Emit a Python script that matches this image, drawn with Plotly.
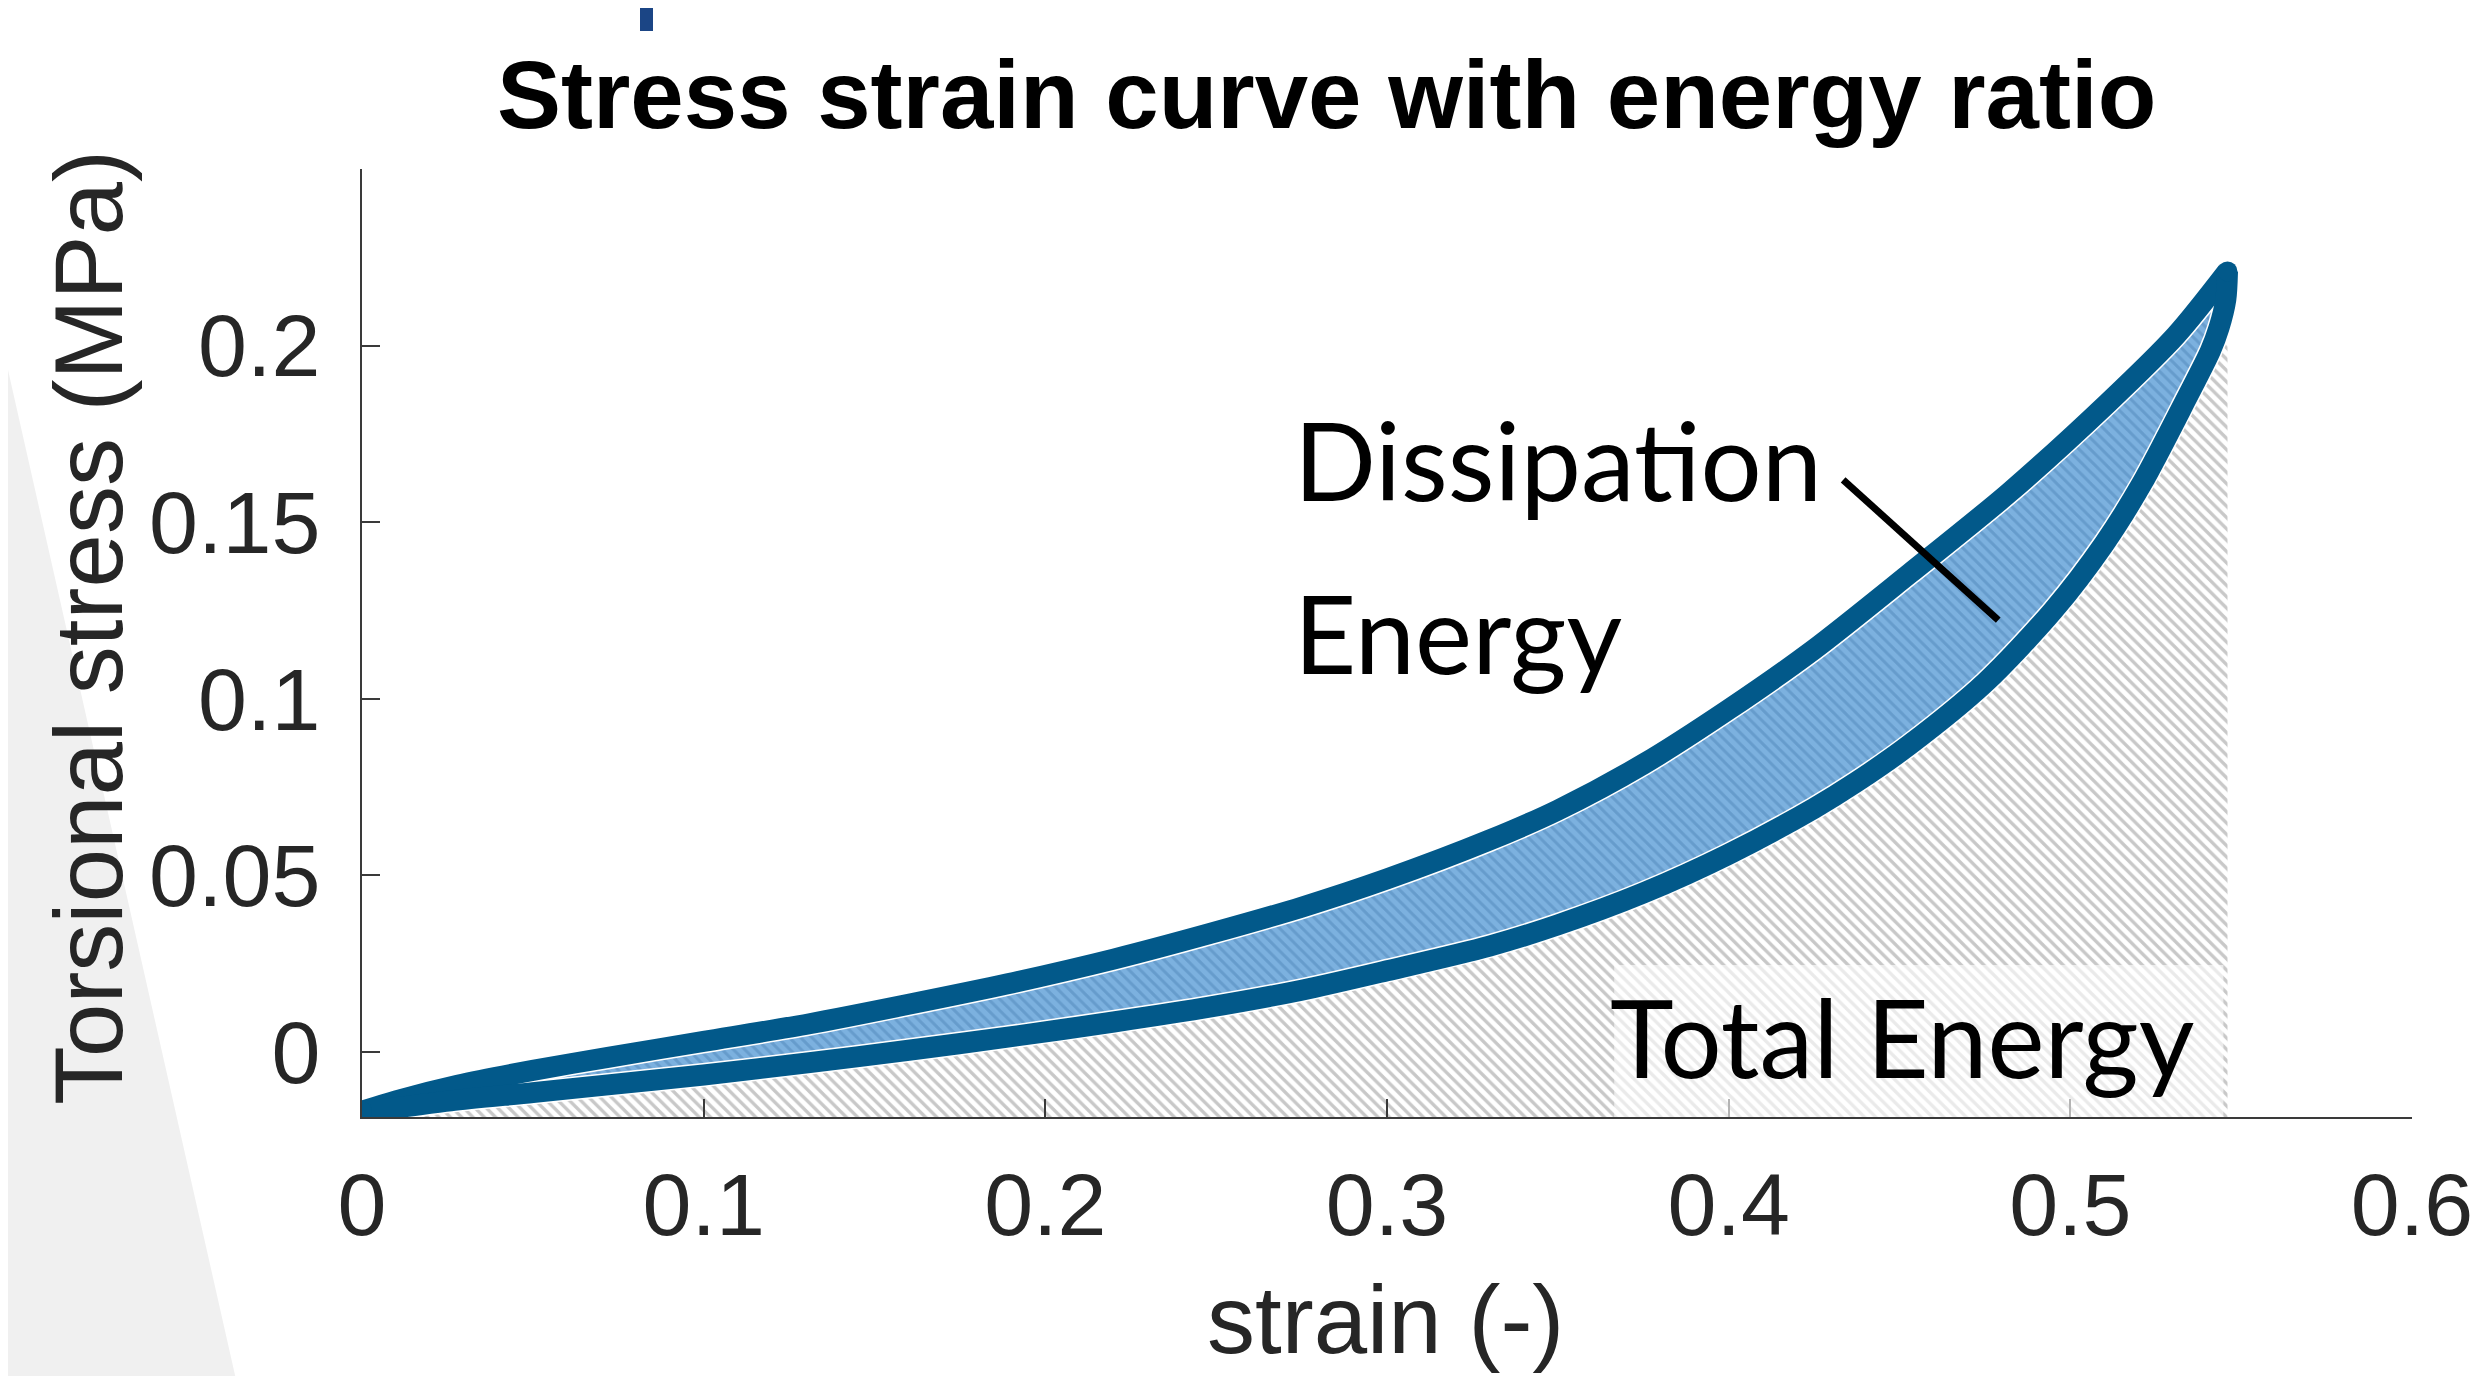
import plotly.graph_objects as go

# ---------------- data ----------------
strain_load = [0.000, 0.010, 0.028, 0.050, 0.072, 0.100, 0.131, 0.160, 0.189, 0.220,
               0.248, 0.275, 0.300, 0.330, 0.350, 0.375, 0.400, 0.425, 0.453, 0.482,
               0.511, 0.531, 0.546]
stress_load = [-0.0168, -0.0138, -0.0094, -0.0052, -0.0015, 0.0030, 0.0080, 0.0135, 0.0193, 0.0263,
               0.0335, 0.0410, 0.0490, 0.0600, 0.0685, 0.0815, 0.0970, 0.1140, 0.1355, 0.1583,
               0.1838, 0.2030, 0.2210]

strain_unload = [0.000, 0.010, 0.026, 0.050, 0.072, 0.100, 0.131, 0.160, 0.189, 0.220,
                 0.248, 0.275, 0.300, 0.330, 0.350, 0.375, 0.400, 0.425, 0.4375, 0.453,
                 0.475, 0.495, 0.510, 0.521, 0.534, 0.541, 0.5435, 0.5455, 0.546]
stress_unload = [-0.0168, -0.0158, -0.0138, -0.0115, -0.0093, -0.0065, -0.0030, 0.0005, 0.0042, 0.0085,
                 0.0127, 0.0175, 0.0230, 0.0300, 0.0360, 0.0450, 0.0560, 0.0690, 0.0765, 0.0870,
                 0.1045, 0.1250, 0.1440, 0.1610, 0.1850, 0.1985, 0.2050, 0.2130, 0.2210]

x_ticks = [0, 0.1, 0.2, 0.3, 0.4, 0.5, 0.6]
x_tick_labels = ["0", "0.1", "0.2", "0.3", "0.4", "0.5", "0.6"]
y_ticks = [0, 0.05, 0.1, 0.15, 0.2]
y_tick_labels = ["0", "0.05", "0.1", "0.15", "0.2"]

X_RANGE = [0, 0.6]
Y_RANGE = [-0.0184, 0.25]

# annotation anchors
total_box = [0.3665, 0.5448, -0.0184, 0.0246]   # x0, x1, y0, y1
leader = [0.4335, 0.162, 0.4789, 0.1223]        # x0, y0, x1, y1

# ---------------- styles ----------------
DARK_BLUE = "#02598a"
AX_COLOR = "#3a3a3a"
TICK_FONT = dict(family="Liberation Sans, Arial, sans-serif", size=88, color="#262626")
LABEL_FONT = "Lato, Carlito, Calibri, sans-serif"
LINE_W = 21

W, H = 2481, 1376
ML, MR, MT, MB = 354, 77, 161, 267
PW, PH = W - ML - MR, H - MT - MB


def px_to_paper(px, py):
    return (px - ML) / PW, (H - MB - py) / PH


fig = go.Figure()

# Total energy (hatched grey area under the unloading curve)
fig.add_trace(go.Scatter(
    x=strain_unload + [strain_unload[-1], strain_unload[0]],
    y=stress_unload + [Y_RANGE[0], Y_RANGE[0]],
    mode="lines", fill="toself", line=dict(width=0, color="rgba(0,0,0,0)"),
    fillcolor="white",
    fillpattern=dict(shape="\\", fgcolor="#929292", bgcolor="white", size=8, solidity=0.42),
    hoverinfo="skip", showlegend=False,
))

# Dissipation loop fill
loop_x = strain_load + strain_unload[::-1]
loop_y = stress_load + stress_unload[::-1]
fig.add_trace(go.Scatter(
    x=loop_x, y=loop_y, mode="lines", fill="toself",
    line=dict(width=0, color="rgba(0,0,0,0)"),
    fillcolor="#7bb0de",
    fillpattern=dict(shape="\\", fgcolor="#5087ba", bgcolor="#7cb1df", size=8, solidity=0.38),
    hoverinfo="skip", showlegend=False,
))
# thin white patch edge
fig.add_trace(go.Scatter(
    x=loop_x, y=loop_y, mode="lines",
    line=dict(width=LINE_W + 3, color="white", shape="spline", smoothing=0.8),
    hoverinfo="skip", showlegend=False,
))
# loading / unloading curves
for xs, ys in [(strain_load, stress_load), (strain_unload, stress_unload)]:
    fig.add_trace(go.Scatter(
        x=xs, y=ys, mode="lines",
        line=dict(width=LINE_W, color=DARK_BLUE, shape="spline", smoothing=0.8),
        hoverinfo="skip", showlegend=False,
    ))
# rounded ends of the loop
fig.add_trace(go.Scatter(
    x=[strain_load[-1], strain_load[0]], y=[stress_load[-1], stress_load[0]], mode="markers",
    marker=dict(size=LINE_W - 1, color=DARK_BLUE, line=dict(width=0)),
    hoverinfo="skip", showlegend=False,
))

shapes = []
# light grey wedge at left (slide background)
a = px_to_paper(0, 362)
b = px_to_paper(229, 1376)
c = px_to_paper(0, 1376)
shapes.append(dict(type="path", xref="paper", yref="paper", layer="below",
                   path=f"M {a[0]-0.1},{a[1]} L {a[0]},{a[1]} L {b[0]},{b[1]} L {c[0]-0.1},{c[1]} Z",
                   fillcolor="#f0f0f0", line=dict(width=0)))
# fragment of a slide heading at the very top
p0 = px_to_paper(632, 23)
p1 = px_to_paper(645, -5)
shapes.append(dict(type="rect", xref="paper", yref="paper", layer="above",
                   x0=p0[0], y0=p0[1], x1=p1[0], y1=p1[1],
                   fillcolor="#1b4585", line=dict(width=0)))
# semi-transparent white box behind "Total Energy"
shapes.append(dict(type="rect", xref="x", yref="y", layer="above",
                   x0=total_box[0], x1=total_box[1], y0=total_box[2], y1=total_box[3],
                   fillcolor="rgba(255,255,255,0.62)", line=dict(width=0)))
# leader line for Dissipation Energy
shapes.append(dict(type="line", xref="x", yref="y", layer="above",
                   x0=leader[0], y0=leader[1], x1=leader[2], y1=leader[3],
                   line=dict(color="black", width=7)))

annotations = []
tx, ty = px_to_paper(1318, 86)
annotations.append(dict(text="<b>Stress strain curve with energy ratio</b>", xref="paper", yref="paper",
                        x=tx, y=ty, xanchor="center", yanchor="middle", showarrow=False,
                        font=dict(family="Liberation Sans, Arial, sans-serif", size=96, color="black")))
ax_, ay_ = px_to_paper(1377, 1311)
annotations.append(dict(text="strain (-)", xref="paper", yref="paper", x=ax_, y=ay_,
                        xanchor="center", yanchor="middle", showarrow=False,
                        font=dict(family="Liberation Sans, Arial, sans-serif", size=96, color="#262626")))
bx_, by_ = px_to_paper(80, 620)
annotations.append(dict(text="Torsional stress (MPa)", xref="paper", yref="paper", x=bx_, y=by_,
                        xanchor="center", yanchor="middle", textangle=-90, showarrow=False,
                        font=dict(family="Liberation Sans, Arial, sans-serif", size=96, color="#262626")))
for txt, (px, py) in [("Dissipation", (1284, 451)), ("Energy", (1284, 624)), ("Total Energy", (1600, 1028))]:
    qx, qy = px_to_paper(px, py)
    annotations.append(dict(text=txt, xref="paper", yref="paper", x=qx, y=qy,
                            xanchor="left", yanchor="middle", showarrow=False,
                            font=dict(family=LABEL_FONT, size=108, color="black")))

fig.update_layout(
    width=W, height=H,
    margin=dict(l=ML, r=MR, t=MT, b=MB, pad=0),
    paper_bgcolor="white", plot_bgcolor="white",
    showlegend=False,
    shapes=shapes, annotations=annotations,
    xaxis=dict(range=X_RANGE, tickmode="array", tickvals=x_ticks, ticktext=x_tick_labels,
               showgrid=False, zeroline=False, showline=True, linecolor=AX_COLOR, linewidth=2,
               ticks="inside", ticklen=18, tickwidth=2, tickcolor=AX_COLOR,
               tickfont=TICK_FONT, ticklabelstandoff=10),
    yaxis=dict(range=Y_RANGE, tickmode="array", tickvals=y_ticks, ticktext=y_tick_labels,
               showgrid=False, zeroline=False, showline=True, linecolor=AX_COLOR, linewidth=2,
               ticks="inside", ticklen=18, tickwidth=2, tickcolor=AX_COLOR,
               tickfont=TICK_FONT, ticklabelstandoff=22),
)

fig.write_html("out.html")
